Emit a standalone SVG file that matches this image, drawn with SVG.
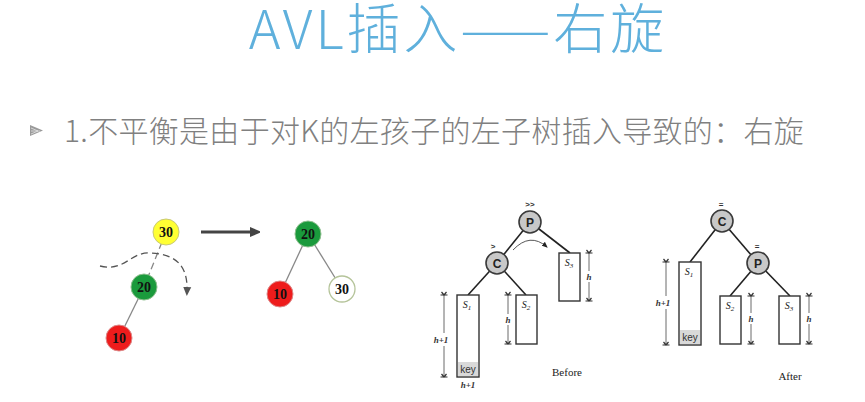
<svg xmlns="http://www.w3.org/2000/svg" width="865" height="402" viewBox="0 0 865 402">
<defs>
<style>
.title{font-family:"Noto Sans CJK SC","Noto Sans",sans-serif;font-weight:300;font-size:54px;fill:#5fb0dc;letter-spacing:3px}
.sub{font-family:"Noto Sans CJK SC","Noto Sans",sans-serif;font-weight:300;font-size:30px;fill:#808080;letter-spacing:0.3px}
.num{font-family:"Liberation Serif",serif;font-weight:bold;font-size:14px;fill:#111;text-anchor:middle}
.edge{stroke:#888;stroke-width:1.3;fill:none}
.tedge{stroke:#222;stroke-width:1.6;fill:none}
.gnode{fill:#c8c8c8;stroke:#3a3a3a;stroke-width:1.6}
.glbl{font-family:"Liberation Sans",sans-serif;font-weight:bold;font-size:12px;fill:#222;text-anchor:middle}
.box{fill:#fff;stroke:#333;stroke-width:1.4}
.key{fill:#d9d9d9}
.keyt{font-family:"Liberation Sans",sans-serif;font-size:10px;fill:#333;text-anchor:middle}
.slbl{font-family:"Liberation Serif",serif;font-style:italic;font-size:10px;fill:#222;text-anchor:middle}
.meas{stroke:#444;stroke-width:0.8;fill:none}
.mlbl{font-family:"Liberation Serif",serif;font-style:italic;font-weight:bold;font-size:9px;fill:#333;text-anchor:middle}
.cap{font-family:"Liberation Serif",serif;font-size:11px;fill:#222;text-anchor:middle}
.mark{font-family:"Liberation Sans",sans-serif;font-weight:bold;font-size:8px;fill:#333;text-anchor:middle}
</style>
<marker id="bigArrow" markerWidth="10" markerHeight="10" refX="2" refY="5" orient="auto" markerUnits="userSpaceOnUse">
<path d="M0,0 L12,5 L0,10 Z" fill="#444"/>
</marker>
<marker id="dashArrow" markerWidth="10" markerHeight="10" refX="5" refY="5" orient="auto" markerUnits="userSpaceOnUse">
<path d="M0,1 L9,5 L0,9 Z" fill="#555"/>
</marker>
<marker id="smallArrow" markerWidth="6" markerHeight="6" refX="5" refY="3" orient="auto" markerUnits="userSpaceOnUse">
<path d="M0,0.5 L6,3 L0,5.5 Z" fill="#222"/>
</marker>
<marker id="mEnd" markerWidth="8" markerHeight="8" refX="4" refY="4" orient="auto" markerUnits="userSpaceOnUse">
<path d="M1,1.5 L4,4 L1,6.5 M4,0.5 L4,7.5" stroke="#333" stroke-width="1.2" fill="none"/>
</marker>
</defs>
<rect width="865" height="402" fill="#fff"/>

<g id="title">
<text class="title" x="458" y="49" text-anchor="middle">AVL插入——右旋</text>
</g>
<g id="subtitle">
<polygon points="30,125 43,130.5 30,136" fill="#9a9a9a"/>
<path d="M31,128 L38,131 M31,131 L40,131 M31,134 L38,131" stroke="#e6e6e6" stroke-width="0.8"/>
<text class="sub" x="64" y="142">1.不平衡是由于对K的左孩子的左子树插入导致的：右旋</text>
</g>

<g id="connectors">
<line class="edge" x1="166" y1="232" x2="144" y2="287" stroke-dasharray="7,4"/>
<line class="edge" x1="144" y1="287" x2="119" y2="338"/>
<path d="M100,266 C125,272 130,252 150,253 C180,254 188,270 187,292" stroke="#555" stroke-width="1.3" fill="none" stroke-dasharray="7,4" marker-end="url(#dashArrow)"/>
<line x1="201" y1="232" x2="252" y2="232" stroke="#444" stroke-width="3" marker-end="url(#bigArrow)"/>
<line class="edge" x1="308" y1="234" x2="280" y2="294"/>
<line class="edge" x1="308" y1="234" x2="342" y2="289"/>
<line class="tedge" x1="530" y1="222" x2="497" y2="263"/>
<line class="tedge" x1="530" y1="222" x2="570" y2="253"/>
<line class="tedge" x1="497" y1="263" x2="468" y2="295"/>
<line class="tedge" x1="497" y1="263" x2="526" y2="295"/>
<path d="M513,250 Q530,232 547,247" stroke="#444" stroke-width="0.9" fill="none" marker-end="url(#smallArrow)"/>
<line class="tedge" x1="722" y1="221" x2="690" y2="262"/>
<line class="tedge" x1="722" y1="221" x2="758" y2="263"/>
<line class="tedge" x1="758" y1="263" x2="730" y2="296"/>
<line class="tedge" x1="758" y1="263" x2="790" y2="296"/>
</g>

<g id="n30">
<circle cx="166" cy="232" r="13" fill="#ffff33" stroke="#c9c977" stroke-width="1"/>
<text class="num" x="166" y="237">30</text>
</g>
<g id="n20">
<circle cx="144" cy="287" r="13" fill="#1a9a3c" stroke="#8fbf8f" stroke-width="1"/>
<text class="num" x="144" y="292">20</text>
</g>
<g id="n10">
<circle cx="119" cy="338" r="13" fill="#ee1c1c" stroke="#d88" stroke-width="1"/>
<text class="num" x="119" y="343">10</text>
</g>
<g id="r20">
<circle cx="308" cy="234" r="13" fill="#1a9a3c" stroke="#8fbf8f" stroke-width="1"/>
<text class="num" x="308" y="239">20</text>
</g>
<g id="r10">
<circle cx="280" cy="294" r="13" fill="#ee1c1c" stroke="#d88" stroke-width="1"/>
<text class="num" x="280" y="299">10</text>
</g>
<g id="r30">
<circle cx="342" cy="289" r="13" fill="#fff" stroke="#b5c49a" stroke-width="1.3"/>
<text class="num" x="342" y="294">30</text>
</g>

<g id="bP">
<circle class="gnode" cx="530" cy="222" r="11"/>
<text class="glbl" x="530" y="226.5">P</text>
<text class="mark" x="530" y="207">&gt;&gt;</text>
</g>
<g id="bC">
<circle class="gnode" cx="497" cy="263" r="11"/>
<text class="glbl" x="497" y="267.5">C</text>
<text class="mark" x="493" y="249">&gt;</text>
</g>
<g id="bS1">
<rect class="box" x="457" y="295" width="22" height="82"/>
<rect class="key" x="458" y="362" width="20" height="14"/>
<text class="keyt" x="468" y="373">key</text>
<text class="slbl" x="467" y="308">S<tspan font-size="7" dy="2">1</tspan></text>
<line class="meas" x1="444" y1="295" x2="444" y2="333" marker-start="url(#mEnd)"/>
<line class="meas" x1="444" y1="346" x2="444" y2="377" marker-end="url(#mEnd)"/>
<text class="mlbl" x="441" y="343">h+1</text>
<text class="mlbl" x="468" y="388">h+1</text>
</g>
<g id="bS2">
<rect class="box" x="516" y="295" width="21" height="49"/>
<text class="slbl" x="526" y="308">S<tspan font-size="7" dy="2">2</tspan></text>
<line class="meas" x1="508" y1="295" x2="508" y2="314" marker-start="url(#mEnd)"/>
<line class="meas" x1="508" y1="325" x2="508" y2="344" marker-end="url(#mEnd)"/>
<text class="mlbl" x="508" y="323">h</text>
</g>
<g id="bS3">
<rect class="box" x="559" y="253" width="21" height="48"/>
<text class="slbl" x="569" y="266">S<tspan font-size="7" dy="2">3</tspan></text>
<line class="meas" x1="589" y1="253" x2="589" y2="271" marker-start="url(#mEnd)"/>
<line class="meas" x1="589" y1="282" x2="589" y2="301" marker-end="url(#mEnd)"/>
<text class="mlbl" x="589" y="280">h</text>
</g>
<g id="before-label">
<text class="cap" x="567" y="376">Before</text>
</g>

<g id="aC">
<circle class="gnode" cx="722" cy="221" r="11"/>
<text class="glbl" x="722" y="225.5">C</text>
<text class="mark" x="721" y="207">=</text>
</g>
<g id="aP">
<circle class="gnode" cx="758" cy="263" r="11"/>
<text class="glbl" x="758" y="267.5">P</text>
<text class="mark" x="757" y="249">=</text>
</g>
<g id="aS1">
<rect class="box" x="679" y="262" width="22" height="83"/>
<rect class="key" x="680" y="330" width="20" height="14"/>
<text class="keyt" x="690" y="341">key</text>
<text class="slbl" x="689" y="275">S<tspan font-size="7" dy="2">1</tspan></text>
<line class="meas" x1="666" y1="262" x2="666" y2="296" marker-start="url(#mEnd)"/>
<line class="meas" x1="666" y1="309" x2="666" y2="345" marker-end="url(#mEnd)"/>
<text class="mlbl" x="663" y="306">h+1</text>
</g>
<g id="aS2">
<rect class="box" x="720" y="296" width="21" height="48"/>
<text class="slbl" x="730" y="309">S<tspan font-size="7" dy="2">2</tspan></text>
<line class="meas" x1="751" y1="296" x2="751" y2="313" marker-start="url(#mEnd)"/>
<line class="meas" x1="751" y1="324" x2="751" y2="344" marker-end="url(#mEnd)"/>
<text class="mlbl" x="751" y="322">h</text>
</g>
<g id="aS3">
<rect class="box" x="779" y="296" width="21" height="48"/>
<text class="slbl" x="789" y="309">S<tspan font-size="7" dy="2">3</tspan></text>
<line class="meas" x1="809" y1="296" x2="809" y2="313" marker-start="url(#mEnd)"/>
<line class="meas" x1="809" y1="324" x2="809" y2="344" marker-end="url(#mEnd)"/>
<text class="mlbl" x="809" y="322">h</text>
</g>
<g id="after-label">
<text class="cap" x="790" y="380">After</text>
</g>
</svg>
